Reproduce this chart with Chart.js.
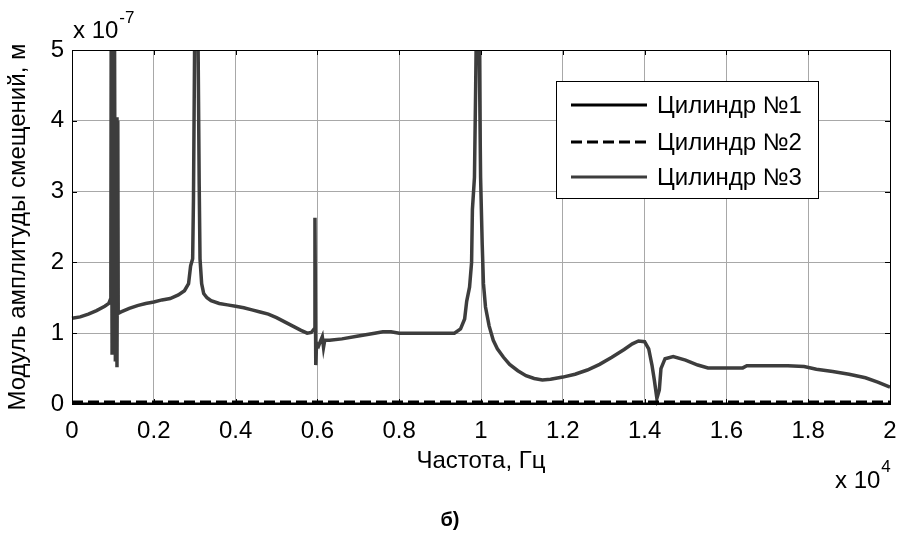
<!DOCTYPE html>
<html>
<head>
<meta charset="utf-8">
<script src="https://cdn.jsdelivr.net/npm/chart.js@4.4.0/dist/chart.umd.min.js"></script>
<style>
  html, body { margin: 0; padding: 0; background: #fff; }
  canvas { display: block; }
</style>
</head>
<body>
<canvas id="chart" width="901" height="536"></canvas>
<script>
// x: frequency, units of 1e4 Hz; y: displacement amplitude, units of 1e-7 m
var xTickLabels = ['0', '0.2', '0.4', '0.6', '0.8', '1', '1.2', '1.4', '1.6', '1.8', '2'];
var yTickLabels = ['0', '1', '2', '3', '4', '5'];

var seriesNames = ['Цилиндр №1', 'Цилиндр №2', 'Цилиндр №3'];

// cylinders 1 and 2 stay at the floor of the axis
var freq1 = [0, 2];
var amp1 = [0, 0];
var freq2 = [0, 2];
var amp2 = [0.03, 0.03];

// cylinder 3: resonance spikes near 0.1, 0.3, 0.6, 1.0 and a dip at 1.43
var freq3 = [
  0, 0.02, 0.04, 0.06, 0.08, 0.09, 0.094, 0.095, 0.096, 0.098,
  0.100, 0.102, 0.104, 0.106, 0.108, 0.110, 0.112, 0.113, 0.12, 0.14,
  0.16, 0.18, 0.2, 0.22, 0.24, 0.26, 0.275, 0.285, 0.29, 0.295,
  0.297, 0.301, 0.307, 0.311, 0.313, 0.317, 0.322, 0.33, 0.34, 0.36,
  0.38, 0.40, 0.42, 0.44, 0.46, 0.48, 0.50, 0.52, 0.54, 0.56,
  0.575, 0.585, 0.592, 0.594, 0.596, 0.598, 0.603, 0.607, 0.612, 0.615,
  0.618, 0.63, 0.66, 0.70, 0.74, 0.76, 0.78, 0.80, 0.85, 0.90,
  0.935, 0.95, 0.96, 0.965, 0.972, 0.977, 0.979, 0.984, 0.987, 0.990,
  0.994, 0.999, 1.003, 1.006, 1.011, 1.02, 1.03, 1.04, 1.055, 1.07,
  1.09, 1.11, 1.13, 1.15, 1.17, 1.20, 1.23, 1.26, 1.29, 1.32,
  1.35, 1.37, 1.385, 1.40, 1.41, 1.418, 1.424, 1.43, 1.436, 1.44,
  1.45, 1.47, 1.50, 1.53, 1.555, 1.60, 1.64, 1.65, 1.70, 1.75,
  1.79, 1.82, 1.86, 1.90, 1.94, 1.97, 2.0
];
var amp3 = [
  1.21, 1.23, 1.27, 1.32, 1.38, 1.42, 1.48, 1.65, 6.0, 0.72,
  6.0, 0.70, 5.2, 0.60, 4.05, 0.52, 4.0, 1.28, 1.30, 1.35,
  1.39, 1.42, 1.44, 1.47, 1.49, 1.54, 1.60, 1.70, 1.95, 2.05,
  2.9, 6.0, 6.0, 3.1, 2.05, 1.7, 1.56, 1.50, 1.46, 1.42,
  1.40, 1.38, 1.36, 1.33, 1.30, 1.27, 1.22, 1.16, 1.10, 1.04,
  1.0, 1.01, 1.06, 2.63, 0.55, 0.86, 0.82, 0.88, 0.95, 0.80,
  0.90, 0.90, 0.92, 0.96, 1.0, 1.02, 1.02, 1.0, 1.0, 1.0,
  1.0, 1.06, 1.2, 1.45, 1.65, 2.0, 2.75, 3.2, 4.5, 6.0,
  6.0, 3.2, 2.25, 1.7, 1.37, 1.1, 0.9, 0.78, 0.66, 0.56,
  0.47, 0.40, 0.36, 0.34, 0.35, 0.38, 0.42, 0.48, 0.56, 0.66,
  0.77, 0.85, 0.89, 0.88, 0.78, 0.55, 0.33, 0.08, 0.2, 0.5,
  0.64, 0.67, 0.62, 0.55, 0.51, 0.51, 0.51, 0.54, 0.54, 0.54,
  0.53, 0.49, 0.46, 0.42, 0.37, 0.31, 0.24
];

var FONT = '"Liberation Sans", Arial, Helvetica, sans-serif';
Chart.defaults.font.family = FONT;
Chart.defaults.color = '#000';

function toPoints(xs, ys) {
  return xs.map(function(x, i) { return { x: x, y: ys[i] }; });
}

// white page behind the canvas
var whiteBackground = {
  id: 'whiteBackground',
  beforeDraw: function(chart) {
    var ctx = chart.ctx;
    ctx.save();
    ctx.fillStyle = '#fff';
    ctx.fillRect(0, 0, chart.width, chart.height);
    ctx.restore();
  }
};

// box around the axes with short inward tick marks on all four sides
var axesBox = {
  id: 'axesBox',
  afterDatasetsDraw: function(chart) {
    var ctx = chart.ctx;
    var a = chart.chartArea;
    var xs = chart.scales.x, ys = chart.scales.y;
    var len = 5;
    ctx.save();
    ctx.strokeStyle = '#000';
    ctx.lineWidth = 1;
    ctx.beginPath();
    xs.ticks.forEach(function(t) {
      var px = Math.round(xs.getPixelForValue(t.value)) + 0.5;
      ctx.moveTo(px, a.bottom); ctx.lineTo(px, a.bottom - len);
      ctx.moveTo(px, a.top); ctx.lineTo(px, a.top + len);
    });
    ys.ticks.forEach(function(t) {
      var py = Math.round(ys.getPixelForValue(t.value)) + 0.5;
      ctx.moveTo(a.left, py); ctx.lineTo(a.left + len, py);
      ctx.moveTo(a.right, py); ctx.lineTo(a.right - len, py);
    });
    ctx.stroke();
    ctx.strokeRect(Math.round(a.left) + 0.5, Math.round(a.top) + 0.5,
      Math.round(a.right - a.left), Math.round(a.bottom - a.top));
    ctx.restore();
  }
};

// boxed legend inside the plot, top right
var boxLegend = {
  id: 'boxLegend',
  afterDraw: function(chart) {
    var ctx = chart.ctx;
    var bx = 556, by = 81, bw = 262, bh = 117;
    var rows = [105, 142, 177];
    ctx.save();
    ctx.fillStyle = '#fff';
    ctx.fillRect(bx, by, bw, bh);
    ctx.strokeStyle = '#000';
    ctx.lineWidth = 1;
    ctx.strokeRect(bx + 0.5, by + 0.5, bw, bh);
    chart.data.datasets.forEach(function(ds, i) {
      ctx.beginPath();
      ctx.strokeStyle = ds.borderColor;
      ctx.lineWidth = 3;
      ctx.setLineDash(ds.borderDash || []);
      ctx.moveTo(571, rows[i]);
      ctx.lineTo(647, rows[i]);
      ctx.stroke();
      ctx.setLineDash([]);
      ctx.fillStyle = '#000';
      ctx.font = '24px ' + FONT;
      ctx.textBaseline = 'middle';
      ctx.textAlign = 'left';
      ctx.fillText(ds.label, 657, rows[i] + 1);
    });
    ctx.restore();
  }
};

// axis multipliers and the figure caption
var extraText = {
  id: 'extraText',
  afterDraw: function(chart) {
    var ctx = chart.ctx;
    ctx.save();
    ctx.fillStyle = '#000';
    ctx.textAlign = 'left';
    ctx.textBaseline = 'alphabetic';
    ctx.font = '24px ' + FONT;
    ctx.fillText('x 10', 73, 38);
    var w = ctx.measureText('x 10').width;
    ctx.font = '17px ' + FONT;
    ctx.fillText('-7', 73 + w + 1, 23);

    ctx.font = '24px ' + FONT;
    ctx.fillText('x 10', 835, 488);
    w = ctx.measureText('x 10').width;
    ctx.font = '17px ' + FONT;
    ctx.fillText('4', 835 + w + 1, 472);

    ctx.font = 'bold 20px ' + FONT;
    ctx.textAlign = 'center';
    ctx.textBaseline = 'middle';
    ctx.fillText('б)', 450, 520);
    ctx.restore();
  }
};

new Chart(document.getElementById('chart'), {
  type: 'line',
  data: {
    datasets: [{
      label: seriesNames[0],
      data: toPoints(freq1, amp1),
      borderColor: '#000',
      borderWidth: 3,
      pointRadius: 0,
      clip: { left: 0, right: 0, top: 0, bottom: 0 }
    }, {
      label: seriesNames[1],
      data: toPoints(freq2, amp2),
      borderColor: '#000',
      borderWidth: 3,
      borderDash: [11, 5],
      pointRadius: 0,
      clip: { left: 0, right: 0, top: 0, bottom: 2 }
    }, {
      label: seriesNames[2],
      data: toPoints(freq3, amp3),
      borderColor: '#3d3d3d',
      borderWidth: 3.5,
      pointRadius: 0,
      tension: 0,
      clip: { left: 2, right: 2, top: 0, bottom: 2 }
    }]
  },
  options: {
    responsive: false,
    devicePixelRatio: 1,
    animation: false,
    events: [],
    layout: { padding: { top: 50, right: 11, left: 0, bottom: 0 } },
    plugins: {
      legend: { display: false },
      tooltip: { enabled: false }
    },
    scales: {
      x: {
        type: 'linear',
        min: 0,
        max: 2,
        afterFit: function(s) {
          s.height = 132;
          s.paddingLeft = 0;
          s.paddingRight = 0;
        },
        border: { display: false },
        grid: { color: '#a8a8a8', lineWidth: 1, drawTicks: false },
        ticks: {
          stepSize: 0.2,
          padding: 13,
          maxRotation: 0,
          autoSkip: false,
          font: { size: 24 },
          callback: function(v, i) { return xTickLabels[i]; }
        },
        title: {
          display: true,
          text: 'Частота, Гц',
          font: { size: 24 },
          padding: { top: 0, bottom: 60 }
        }
      },
      y: {
        min: 0,
        max: 5,
        afterFit: function(s) {
          s.width = 72;
          s.paddingTop = 0;
          s.paddingBottom = 0;
        },
        border: { display: false },
        grid: { color: '#a8a8a8', lineWidth: 1, drawTicks: false },
        ticks: {
          stepSize: 1,
          padding: 8,
          font: { size: 24 },
          callback: function(v, i) { return yTickLabels[i]; }
        },
        title: {
          display: true,
          text: 'Модуль амплитуды смещений, м',
          font: { size: 24 },
          padding: { top: 4, bottom: 0 }
        }
      }
    }
  },
  plugins: [whiteBackground, axesBox, boxLegend, extraText]
});
</script>
</body>
</html>
